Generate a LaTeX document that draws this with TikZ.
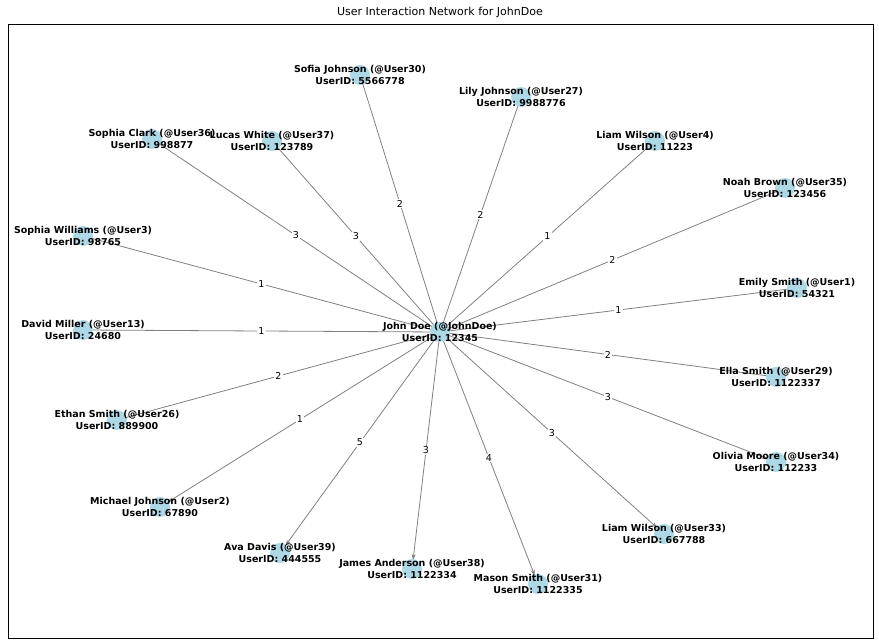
\documentclass[tikz,border=0pt]{standalone}
\usepackage{fontspec}
\setmainfont{DejaVu Sans}
\usetikzlibrary{arrows.meta}
\begin{document}
\begin{tikzpicture}[x=1pt,y=-1pt,
  dot/.style={circle,fill={rgb,255:red,173;green,216;blue,230},minimum size=20pt,inner sep=0pt},
  lab/.style={font=\bfseries\fontsize{9.5}{11.5}\selectfont,align=center},
  wt/.style={fill=white,inner sep=1pt,font=\fontsize{9.5}{11}\selectfont},
  edgeline/.style={draw={rgb,255:red,128;green,128;blue,128},line width=0.8pt},
  outarrow/.style={edgeline,-{Stealth[length=6pt,width=4pt]},shorten >=9pt}]
\useasboundingbox (0,0) rectangle (879,642);
\draw[line width=0.8pt] (8,24) rectangle (873,638);
\node[font=\fontsize{11}{13}\selectfont] (title) at (440,12) {User Interaction Network for JohnDoe};
\foreach \n/\x/\y in {c/440/332, s30/360/75, l27/521/97, c36/152/139, w37/272/141, w4/655/141, n35/785/188, sw3/83/236, e1/797/288, d13/83/330, e29/776/377, e26/117/420, o34/776/462, m2/160/507, w33/664/534, a39/280/553, j38/412/569, m31/538/584}
  \coordinate (\n) at (\x,\y);
\foreach \n/\w in {s30/2, l27/2, c36/3, w37/3, w4/1, n35/2, sw3/1, e1/1, d13/1, e29/2, e26/2}
  \path[edgeline] (\n) -- node[wt]{\w} (c);
\foreach \n/\w in {o34/3, m2/1, w33/3, a39/5, j38/3, m31/4}
  \path[outarrow] (c) -- node[wt]{\w} (\n);
\foreach \n in {c,s30,l27,c36,w37,w4,n35,sw3,e1,d13,e29,e26,o34,m2,w33,a39,j38,m31}
  \node[dot] (\n d) at (\n) {};
\node[lab] (Lc) at (c) {John Doe (@JohnDoe)\\UserID: 12345};
\node[lab] (L1) at (s30) {Sofia Johnson (@User30)\\UserID: 5566778};
\node[lab] (L2) at (l27) {Lily Johnson (@User27)\\UserID: 9988776};
\node[lab] (L3) at (c36) {Sophia Clark (@User36)\\UserID: 998877};
\node[lab] (L4) at (w37) {Lucas White (@User37)\\UserID: 123789};
\node[lab] (L5) at (w4) {Liam Wilson (@User4)\\UserID: 11223};
\node[lab] (L6) at (n35) {Noah Brown (@User35)\\UserID: 123456};
\node[lab] (L7) at (sw3) {Sophia Williams (@User3)\\UserID: 98765};
\node[lab] (L8) at (e1) {Emily Smith (@User1)\\UserID: 54321};
\node[lab] (L9) at (d13) {David Miller (@User13)\\UserID: 24680};
\node[lab] (L10) at (e29) {Ella Smith (@User29)\\UserID: 1122337};
\node[lab] (L11) at (e26) {Ethan Smith (@User26)\\UserID: 889900};
\node[lab] (L12) at (o34) {Olivia Moore (@User34)\\UserID: 112233};
\node[lab] (L13) at (m2) {Michael Johnson (@User2)\\UserID: 67890};
\node[lab] (L14) at (w33) {Liam Wilson (@User33)\\UserID: 667788};
\node[lab] (L15) at (a39) {Ava Davis (@User39)\\UserID: 444555};
\node[lab] (L16) at (j38) {James Anderson (@User38)\\UserID: 1122334};
\node[lab] (L17) at (m31) {Mason Smith (@User31)\\UserID: 1122335};
\end{tikzpicture}
\end{document}
